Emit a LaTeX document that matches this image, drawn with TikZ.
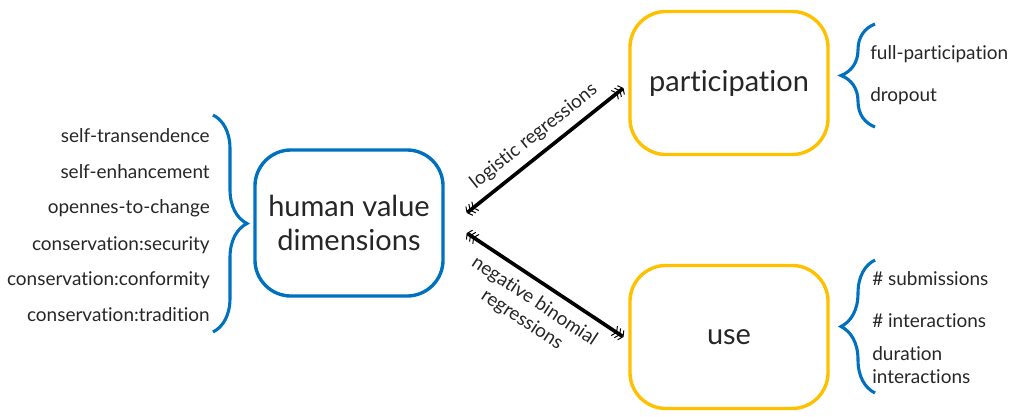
\documentclass[tikz,border=0pt]{standalone}
\usepackage{fontspec}
\setmainfont{Lato}[Ligatures=NoCommon]
\usepackage{tikz}
\usetikzlibrary{arrows.meta, positioning, calc, decorations.pathreplacing}
\definecolor{valueblue}{HTML}{0070C0}
\definecolor{outcomegold}{HTML}{FFC000}
\definecolor{textdark}{HTML}{262626}
\tikzset{fletch/.tip={Straight Barb[length=2pt,width=8pt,line width=0.7pt]
    Straight Barb[length=2pt,width=8pt,line width=0.7pt]
    Straight Barb[length=2pt,width=8pt,line width=0.7pt]}}

\begin{document}
\begin{tikzpicture}[x=0.025cm, y=-0.025cm, text=textdark,
    font=\fontsize{13.5}{16}\selectfont,
    dimbox/.style={rectangle, rounded corners=0.9cm, draw=valueblue, line width=2.4pt,
      minimum width=4.7cm, minimum height=3.65cm, align=center,
      font=\fontsize{20.6}{24}\selectfont},
    outbox/.style={dimbox, draw=outcomegold, minimum width=4.95cm, minimum height=3.575cm},
    item/.style={inner sep=0pt, anchor=east},
    subitem/.style={inner sep=0pt, anchor=west, align=left},
    curly/.style={draw=valueblue, line width=2.2pt, decorate,
      decoration={brace, amplitude=0.85cm}},
    reg/.style={fletch-fletch, line width=2.6pt, draw=black}]
    \useasboundingbox (0,0) rectangle (1011,416);

    % Boxes
    \node[dimbox] (human) at (349,223) {human value\\dimensions};
    \node[outbox] (partic) at (729,83) {participation};
    \node[outbox] (use) at (729,337) {use};

    % Value dimensions
    \node[item] (selftrans) at (210,136) {self-transendence};
    \node[item] (selfenh) at (210,172) {self-enhancement};
    \node[item] (openness) at (210,208) {opennes-to-change};
    \node[item] (security) at (210,245) {conservation:security};
    \node[item] (conformity) at (210,280) {conservation:conformity};
    \node[item] (tradition) at (210,315) {conservation:tradition};
    \draw[curly] (213,115) -- (213,332);

    % Participation outcomes
    \node[subitem] (fullpart) at (870,54) {full-participation};
    \node[subitem] (dropout) at (870,96) {dropout};
    \draw[curly] (875,127) -- (875,24);

    % Use outcomes
    \node[subitem] (submis) at (872,279) {\# submissions};
    \node[subitem] (interact) at (872,321) {\# interactions};
    \node[subitem] (duration) at (872,365) {duration\\interactions};
    \draw[curly] (875,393) -- (875,260);

    % Regressions
    \draw[reg] ([xshift=0.55cm, yshift=0.25cm]human.east) -- ([xshift=-0.12cm, yshift=-0.125cm]partic.west)
      node[midway, above=2pt, sloped, font=\fontsize{13.5}{16}\selectfont] (logit) {logistic regressions};
    \draw[reg] ([xshift=0.55cm, yshift=-0.25cm]human.east) -- ([xshift=-0.12cm]use.west)
      node[midway, below=3pt, sloped, align=center, font=\fontsize{13.5}{16}\selectfont] (negbin) {negative binomial\\regressions};
\end{tikzpicture}
\end{document}
